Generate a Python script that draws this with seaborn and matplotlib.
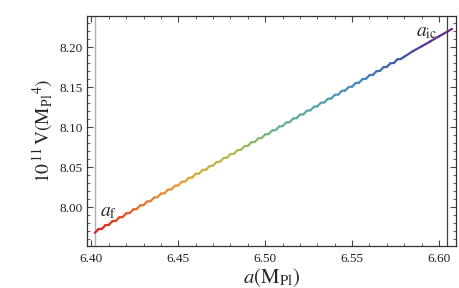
import pandas as pd
import matplotlib.pyplot as plt
import seaborn as sns
from matplotlib.colors import LinearSegmentedColormap
from matplotlib.ticker import MultipleLocator, FormatStrFormatter

sns.set_style("ticks")
plt.rcParams['font.family'] = ['Liberation Serif', 'DejaVu Serif']
plt.rcParams['mathtext.fontset'] = 'stix'

# field value a (in M_Pl) along the trajectory
a_vals = [6.402, 6.404, 6.406, 6.408, 6.410, 6.412, 6.414, 6.416, 6.418, 6.420,
          6.422, 6.424, 6.426, 6.428, 6.430, 6.432, 6.434, 6.436, 6.438, 6.440,
          6.442, 6.444, 6.446, 6.448, 6.450, 6.452, 6.454, 6.456, 6.458, 6.460,
          6.462, 6.464, 6.466, 6.468, 6.470, 6.472, 6.474, 6.476, 6.478, 6.480,
          6.482, 6.484, 6.486, 6.488, 6.490, 6.492, 6.494, 6.496, 6.498, 6.500,
          6.502, 6.504, 6.506, 6.508, 6.510, 6.512, 6.514, 6.516, 6.518, 6.520,
          6.522, 6.524, 6.526, 6.528, 6.530, 6.532, 6.534, 6.536, 6.538, 6.540,
          6.542, 6.544, 6.546, 6.548, 6.550, 6.552, 6.554, 6.556, 6.558, 6.560,
          6.562, 6.564, 6.566, 6.568, 6.570, 6.572, 6.574, 6.576, 6.578,
          6.580, 6.585, 6.590, 6.595, 6.600, 6.6075]

# 10^11 V (in M_Pl^4), small steps of the wiggle included
v_vals = [7.9678, 7.9723, 7.9727, 7.9772, 7.9777, 7.9822, 7.9826, 7.9871, 7.9876, 7.9921,
          7.9925, 7.9970, 7.9974, 8.0019, 8.0024, 8.0069, 8.0073, 8.0118, 8.0123, 8.0168,
          8.0172, 8.0217, 8.0221, 8.0266, 8.0271, 8.0316, 8.0320, 8.0365, 8.0370, 8.0415,
          8.0419, 8.0464, 8.0468, 8.0513, 8.0518, 8.0563, 8.0567, 8.0612, 8.0617, 8.0662,
          8.0666, 8.0711, 8.0715, 8.0760, 8.0765, 8.0810, 8.0814, 8.0859, 8.0864, 8.0909,
          8.0913, 8.0958, 8.0962, 8.1007, 8.1012, 8.1057, 8.1061, 8.1106, 8.1111, 8.1156,
          8.1160, 8.1205, 8.1209, 8.1254, 8.1259, 8.1304, 8.1308, 8.1353, 8.1358, 8.1403,
          8.1407, 8.1452, 8.1456, 8.1501, 8.1506, 8.1551, 8.1555, 8.1600, 8.1605, 8.1650,
          8.1654, 8.1699, 8.1703, 8.1748, 8.1753, 8.1798, 8.1802, 8.1847, 8.1852,
          8.1880, 8.1950, 8.2010, 8.2072, 8.2135, 8.2228]

a_f = 6.402
a_ic = 6.6046

# red at a_f -> purple at a_ic
rainbow = ["#D92120", "#E7742F", "#DFA53A", "#B1BE4E", "#6DB388",
           "#57A3AD", "#4683C1", "#3F4EA1", "#781C81"]
cmap = LinearSegmentedColormap.from_list("rainbow_r", rainbow)

# split into two-point pieces so each piece gets its own colour
rows = []
for i in range(len(a_vals) - 1):
    rows.append((a_vals[i], v_vals[i], i, a_vals[i]))
    rows.append((a_vals[i + 1], v_vals[i + 1], i, a_vals[i]))
seg = pd.DataFrame(rows, columns=["a", "V", "seg", "a0"])

fig, ax = plt.subplots(figsize=(4.6, 2.88), dpi=100)
fig.subplots_adjust(left=0.189, right=0.991, bottom=0.146, top=0.944)

ax.axvline(a_f, color="#b0b0b0", lw=1.0, zorder=1)
ax.axvline(a_ic, color="#404040", lw=0.9, zorder=1)

sns.lineplot(data=seg, x="a", y="V", hue="a0", units="seg", estimator=None,
             sort=False, palette=cmap, hue_norm=(a_vals[0], a_vals[-1]),
             legend=False, lw=1.6, solid_capstyle="round", ax=ax, zorder=3)

ax.text(6.4052, 7.9888, r"$a_{\rm f}$", fontsize=14, ha="left", va="baseline")
ax.text(6.5865, 8.2141, r"$a_{\rm ic}$", fontsize=14, ha="left", va="baseline")

ax.set_xlim(6.3974, 6.6097)
ax.set_ylim(7.9513, 8.2388)
ax.xaxis.set_major_locator(MultipleLocator(0.05))
ax.xaxis.set_minor_locator(MultipleLocator(0.01))
ax.yaxis.set_major_locator(MultipleLocator(0.05))
ax.yaxis.set_minor_locator(MultipleLocator(0.01))
ax.xaxis.set_major_formatter(FormatStrFormatter("%.2f"))
ax.yaxis.set_major_formatter(FormatStrFormatter("%.2f"))
ax.tick_params(which="both", direction="in", top=True, right=True,
               color="#444444", labelcolor="#222222", labelsize=9.5)
ax.tick_params(which="major", length=4.5, width=0.8)
ax.tick_params(which="minor", length=2.5, width=0.6)
ax.tick_params(axis="x", pad=5)
ax.tick_params(axis="y", pad=3)
for sp in ax.spines.values():
    sp.set_color("#333333")
    sp.set_linewidth(0.9)

ax.set_xlabel(r"$a(\mathrm{M}_{\mathrm{Pl}})$", fontsize=15, labelpad=1)
ax.set_ylabel(r"$10^{\,11}\,\mathrm{V}(\mathrm{M}_{\mathrm{Pl}}{}^{4})$", fontsize=14, labelpad=3)

fig.savefig("out.png", dpi=100)
